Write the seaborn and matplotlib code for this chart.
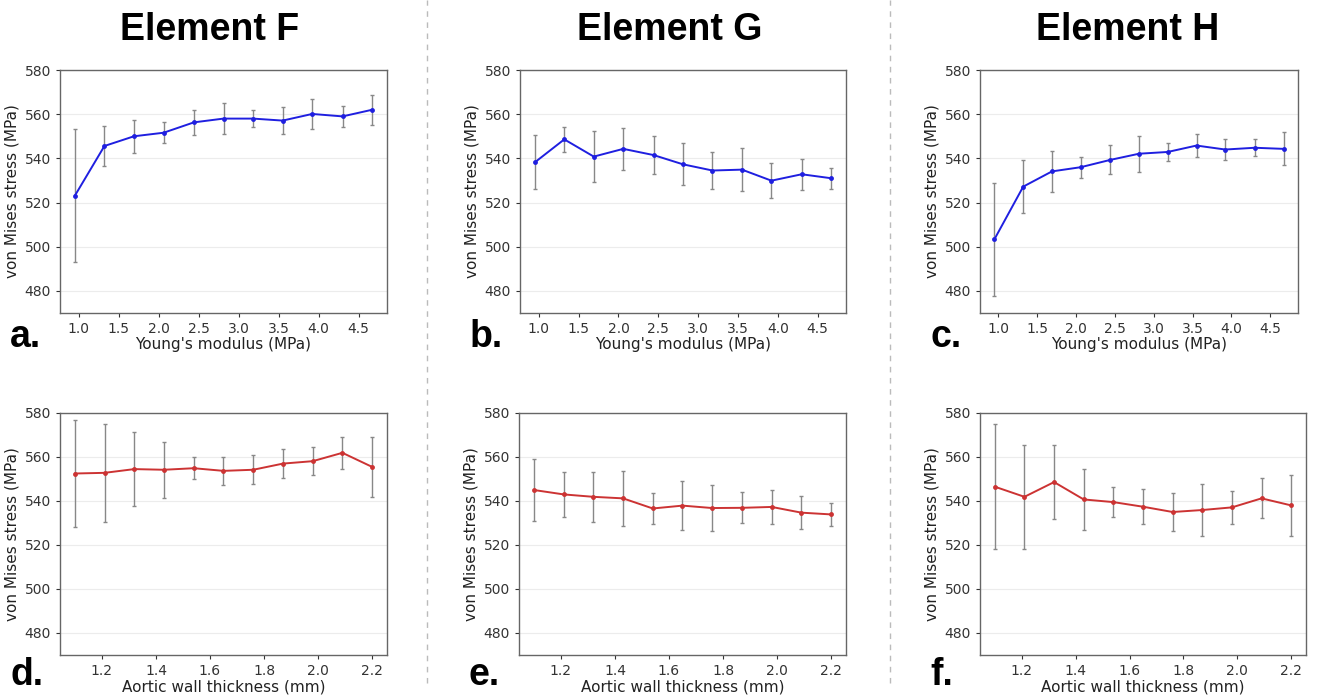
import matplotlib
matplotlib.use('Agg')
import matplotlib.pyplot as plt
from matplotlib.lines import Line2D
import seaborn as sns
import pandas as pd

sns.set_style('white')
plt.rcParams['font.family'] = ['DejaVu Sans']

# x values
youngs = [0.95, 1.32, 1.69, 2.06, 2.44, 2.81, 3.18, 3.55, 3.92, 4.30, 4.67]
thickness = [1.10, 1.21, 1.32, 1.43, 1.54, 1.65, 1.76, 1.87, 1.98, 2.09, 2.20]

# Young's modulus sweep (mean, error)
f_young = [523.1, 545.6, 550.0, 551.6, 556.3, 558.0, 558.0, 557.1, 560.1, 559.0, 562.0]
f_young_err = [30.0, 9.2, 7.5, 4.7, 5.6, 7.0, 3.9, 6.0, 6.6, 4.9, 6.9]
g_young = [538.2, 548.6, 540.8, 544.3, 541.5, 537.3, 534.5, 534.9, 529.9, 532.8, 531.0]
g_young_err = [12.2, 5.5, 11.6, 9.6, 8.7, 9.5, 8.4, 9.7, 7.8, 6.9, 4.7]
h_young = [503.4, 527.2, 534.1, 536.0, 539.3, 542.1, 542.9, 545.8, 544.0, 544.8, 544.3]
h_young_err = [25.6, 12.0, 9.1, 4.7, 6.6, 8.2, 4.0, 5.1, 4.9, 3.9, 7.5]

# wall thickness sweep (mean, error)
f_thick = [552.5, 552.8, 554.5, 554.2, 554.9, 553.7, 554.2, 557.0, 558.1, 561.9, 555.5]
f_thick_err = [24.3, 22.3, 16.8, 12.7, 5.0, 6.5, 6.6, 6.5, 6.4, 7.3, 13.6]
g_thick = [545.0, 543.0, 541.9, 541.2, 536.6, 537.9, 536.8, 536.9, 537.3, 534.7, 533.9]
g_thick_err = [13.9, 10.3, 11.5, 12.4, 6.9, 11.3, 10.4, 7.0, 7.8, 7.5, 5.1]
h_thick = [546.5, 541.9, 548.6, 540.7, 539.5, 537.4, 535.0, 535.9, 537.1, 541.2, 538.0]
h_thick_err = [28.5, 23.6, 16.8, 14.0, 6.8, 8.0, 8.5, 11.9, 7.6, 9.1, 13.7]

titles = ['Element F', 'Element G', 'Element H']
letters = ['a.', 'b.', 'c.', 'd.', 'e.', 'f.']
young_ticks = [1.0, 1.5, 2.0, 2.5, 3.0, 3.5, 4.0, 4.5]
thick_ticks = [1.2, 1.4, 1.6, 1.8, 2.0, 2.2]

W, H = 1317, 697
fig = plt.figure(figsize=(W / 100, H / 100), dpi=100)

# axes boxes in pixels: left, top, right, bottom
boxes = [(60, 70, 387, 313), (520, 70, 846, 313), (980, 70, 1298, 313),
         (60, 413, 387, 655), (519, 413, 846, 655), (980, 413, 1306, 655)]

panels = [
    (youngs, f_young, f_young_err, '#1f1fe0', "Young's modulus (MPa)", young_ticks),
    (youngs, g_young, g_young_err, '#1f1fe0', "Young's modulus (MPa)", young_ticks),
    (youngs, h_young, h_young_err, '#1f1fe0', "Young's modulus (MPa)", young_ticks),
    (thickness, f_thick, f_thick_err, '#cc3333', 'Aortic wall thickness (mm)', thick_ticks),
    (thickness, g_thick, g_thick_err, '#cc3333', 'Aortic wall thickness (mm)', thick_ticks),
    (thickness, h_thick, h_thick_err, '#cc3333', 'Aortic wall thickness (mm)', thick_ticks),
]

for i, ((l, t, r, b), (xs, ys, es, col, xlab, xt)) in enumerate(zip(boxes, panels)):
    ax = fig.add_axes([l / W, 1 - b / H, (r - l) / W, (b - t) / H])
    df = pd.DataFrame({'x': xs, 'y': ys, 'err': es})
    ax.errorbar(df['x'], df['y'], yerr=df['err'], fmt='none', ecolor='#888888',
                elinewidth=1, capsize=1.5, capthick=1, zorder=2)
    sns.lineplot(data=df, x='x', y='y', ax=ax, color=col, marker='o',
                 markersize=3.5, markeredgewidth=0, linewidth=1.4, zorder=3)
    ax.set_ylim(470, 580)
    ax.set_yticks([480, 500, 520, 540, 560, 580])
    ax.set_xticks(xt)
    ax.set_xticklabels([f'{v:.1f}' for v in xt])
    ax.grid(axis='y', color='#ececec', linewidth=0.8)
    ax.set_axisbelow(True)
    ax.set_xlabel(xlab, fontsize=11, color='#222222', labelpad=1)
    ax.set_ylabel('von Mises stress (MPa)', fontsize=11, color='#222222')
    ax.tick_params(axis='both', labelsize=10, colors='#333333', length=3,
                   direction='out', bottom=True, left=True)
    for s in ax.spines.values():
        s.set_color('#666666')
        s.set_linewidth(1.0)
    # panel letter
    base = b + 34 if i < 3 else b + 30
    fig.text((l - 50) / W, 1 - base / H, letters[i], fontsize=27,
             fontweight='bold', ha='left', va='baseline', color='black',
             family='Liberation Sans')

# column titles
for cx, ttl in zip([210, 670, 1128], titles):
    fig.text(cx / W, 1 - 30 / H, ttl, fontsize=27, fontweight='bold',
             ha='center', va='center', family='Liberation Sans', color='black')

# dashed separators
for sx in [427, 890]:
    fig.add_artist(Line2D([sx / W, sx / W], [1 - 683 / H, 1.0],
                          color='#bbbbbb', linestyle=(0, (4, 4)), linewidth=1))

fig.savefig('out.png', dpi=100, facecolor='white')
